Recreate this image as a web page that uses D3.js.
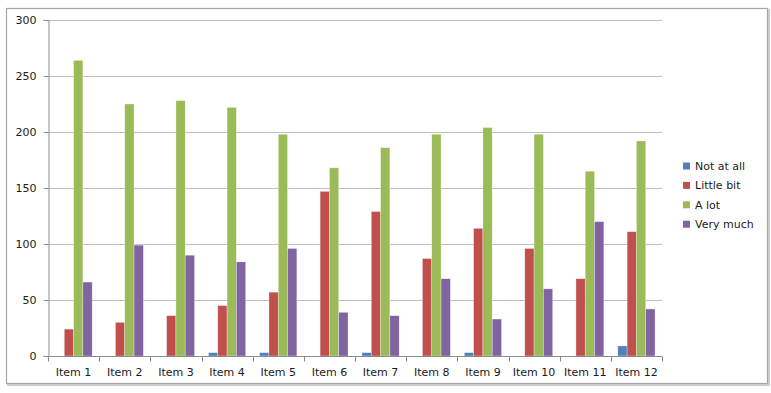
<!DOCTYPE html>
<html><head><meta charset="utf-8">
<script src="https://cdn.jsdelivr.net/npm/d3@7"></script>
<style>body{margin:0;background:#fff}svg{display:block}</style>
</head><body>
<script>
const categories = ["Item 1","Item 2","Item 3","Item 4","Item 5","Item 6","Item 7","Item 8","Item 9","Item 10","Item 11","Item 12"];
const seriesNames = ["Not at all","Little bit","A lot","Very much"];
const notAtAll = [0,0,0,3,3,0,3,0,3,0,0,9];
const littleBit = [24,30,36,45,57,147,129,87,114,96,69,111];
const aLot = [264,225,228,222,198,168,186,198,204,198,165,192];
const veryMuch = [66,99,90,84,96,39,36,69,33,60,120,42];
const colors = ["#4F81BD","#C0504D","#9BBB59","#8064A2"];
const yTicks = [0,50,100,150,200,250,300];

(function(){
const series = [notAtAll, littleBit, aLot, veryMuch];
const W = 771, H = 393;
const svg = d3.select("body").append("svg").attr("width", W).attr("height", H);
const font = "'DejaVu Sans', Verdana, sans-serif";
const txt = "#1a1a1a";

// shadow + border
svg.append("rect").attr("x",8).attr("y",10).attr("width",761).attr("height",375)
  .attr("fill","none").attr("stroke","#d0d0d0").attr("stroke-width",2);
svg.append("rect").attr("x",6.5).attr("y",8.5).attr("width",761).attr("height",375)
  .attr("fill","#fff").attr("stroke","#a6a6a6").attr("stroke-width",1.2);

const pLeft = 48, pRight = 662, pTop = 20, pBottom = 356;
const x = d3.scaleBand().domain(categories).range([pLeft, pRight]).padding(0);
const inner = d3.scaleBand().domain(seriesNames).range([0, x.bandwidth()]).paddingOuter(0.75).paddingInner(0);
const y = d3.scaleLinear().domain([0,300]).range([pBottom, pTop]);

svg.append("g").selectAll("line").data(yTicks.filter(d=>d>0)).join("line")
  .attr("x1",pLeft).attr("x2",pRight).attr("y1",d=>Math.round(y(d))+0.5).attr("y2",d=>Math.round(y(d))+0.5)
  .attr("stroke","#bfbfbf").attr("stroke-width",1);

const g = svg.append("g");
series.forEach((vals, si) => {
  g.append("g").selectAll("rect").data(vals).join("rect")
    .attr("x",(d,i)=>x(categories[i]) + inner(seriesNames[si]))
    .attr("width", inner.bandwidth())
    .attr("y", d=>y(d))
    .attr("height", d=>y(0)-y(d))
    .attr("fill", colors[si])
    .attr("stroke", d=>d>0?"rgba(255,255,255,0.5)":"none").attr("stroke-width",0.6);
});

const yAxis = d3.axisLeft(y).tickValues(yTicks).tickSize(5).tickPadding(7);
const ya = svg.append("g").attr("transform",`translate(${pLeft+0.5},0)`).call(yAxis);
ya.select(".domain").attr("stroke","#8c8c8c");
ya.selectAll(".tick line").attr("stroke","#8c8c8c");
ya.selectAll(".tick text").attr("font-family",font).attr("font-size",11).attr("fill",txt);

const xa = svg.append("g").attr("transform",`translate(0,${pBottom+0.5})`);
xa.append("line").attr("x1",pLeft).attr("x2",pRight).attr("stroke","#8c8c8c");
const bounds = categories.map(c=>x(c)).concat([pRight]);
xa.selectAll("line.tk").data(bounds).join("line").attr("class","tk")
  .attr("x1",d=>Math.round(d)+0.5).attr("x2",d=>Math.round(d)+0.5).attr("y1",0).attr("y2",5).attr("stroke","#8c8c8c");
xa.selectAll("text").data(categories).join("text")
  .attr("x",d=>x(d)+x.bandwidth()/2).attr("y",19)
  .attr("text-anchor","middle").attr("font-family",font).attr("font-size",11).attr("fill",txt)
  .text(d=>d);

const lg = svg.append("g").attr("transform","translate(683,166)");
seriesNames.forEach((s,i)=>{
  const row = lg.append("g").attr("transform",`translate(0,${i*19.4})`);
  row.append("rect").attr("x",0).attr("y",-3.5).attr("width",7).attr("height",7).attr("fill",colors[i]);
  row.append("text").attr("x",12).attr("y",4).attr("font-family",font).attr("font-size",11).attr("fill",txt).text(s);
});
})();
</script>
</body></html>
